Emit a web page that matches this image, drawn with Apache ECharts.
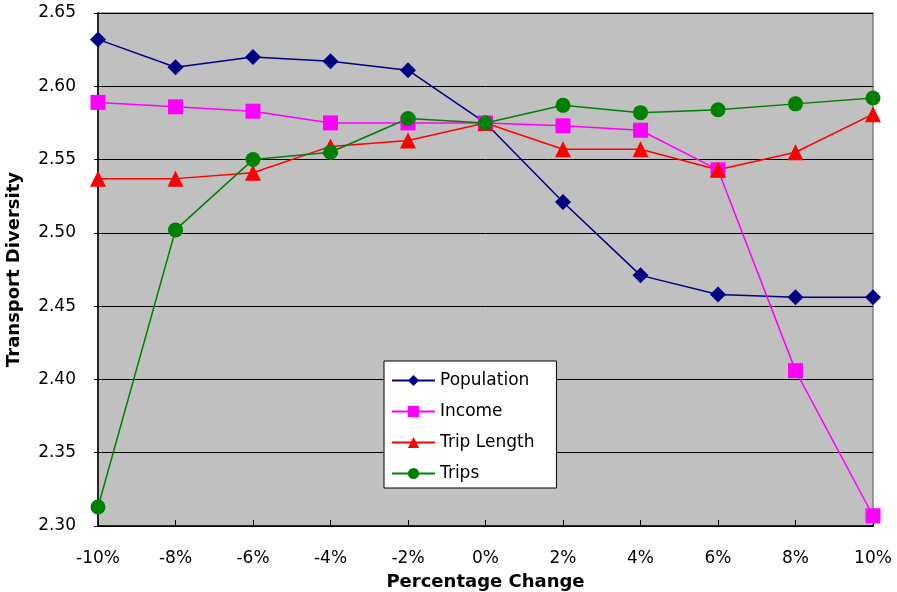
<!DOCTYPE html>
<html>
<head>
<meta charset="utf-8">
<script src="https://cdn.jsdelivr.net/npm/echarts@6/dist/echarts.min.js"></script>
<style>html,body{margin:0;padding:0;background:#fff;}#c{width:897px;height:592px;}</style>
</head>
<body>
<div id="c"></div>
<script>
const categories = ['-10%','-8%','-6%','-4%','-2%','0%','2%','4%','6%','8%','10%'];
const population = [2.632,2.613,2.620,2.617,2.611,2.575,2.521,2.471,2.458,2.456,2.456];
const income = [2.589,2.586,2.583,2.575,2.575,2.575,2.573,2.570,2.543,2.406,2.307];
const tripLength = [2.537,2.537,2.541,2.559,2.563,2.575,2.557,2.557,2.543,2.555,2.581];
const trips = [2.313,2.502,2.550,2.555,2.578,2.575,2.587,2.582,2.584,2.588,2.592];
const yMin = 2.30, yMax = 2.65, yStep = 0.05;

const font = 'Verdana, "DejaVu Sans", sans-serif';
function mk(name, data, color, symbol, size){
  return {name, type:'line', data, symbol, symbolSize:size,
    lineStyle:{color, width:1.5}, itemStyle:{color}, z: 3, animation:false};
}
const chart = echarts.init(document.getElementById('c'));
chart.setOption({
  animation:false,
  grid:{left:98, top:13, right:24, bottom:66, show:true, backgroundColor:'#C0C0C0', borderColor:'#808080', borderWidth:1.5, outerBoundsMode:'none', containLabel:false},
  legend:{
    orient:'vertical', left:384, top:361,
    backgroundColor:'#fff', borderColor:'#000', borderWidth:1,
    padding:[11,22,6,7], itemGap:14, itemWidth:43, itemHeight:14,
    textStyle:{fontFamily:font, fontSize:17, color:'#000'},
    data:['Population','Income','Trip Length','Trips']
  },
  xAxis:{
    type:'category', data:categories, boundaryGap:false,
    axisLine:{lineStyle:{color:'#000', width:1.5}},
    axisTick:{inside:true, length:6, lineStyle:{color:'#000'}},
    axisLabel:{fontFamily:font, fontSize:17, color:'#000', margin:24},
    splitLine:{show:false},
    name:'Percentage Change', nameLocation:'middle', nameGap:47,
    nameTextStyle:{fontFamily:font, fontSize:18, fontWeight:'bold', color:'#000'}
  },
  yAxis:{
    type:'value', min:yMin, max:yMax, interval:yStep,
    axisLine:{show:true, lineStyle:{color:'#000', width:1.5}},
    axisTick:{show:true, length:4, lineStyle:{color:'#000'}},
    axisLabel:{fontFamily:font, fontSize:17, color:'#000', margin:22, formatter:v=>v.toFixed(2)},
    splitLine:{lineStyle:{color:'#000', width:1}},
    name:'Transport Diversity', nameLocation:'middle', nameGap:75, nameRotate:90,
    nameTextStyle:{fontFamily:font, fontSize:18, fontWeight:'bold', color:'#000'}
  },
  series:[
    mk('Population', population, '#000080', 'diamond', 16),
    mk('Income', income, '#FF00FF', 'rect', 15),
    mk('Trip Length', tripLength, '#FF0000', 'triangle', 16),
    mk('Trips', trips, '#008000', 'circle', 15)
  ]
});
</script>
</body>
</html>
